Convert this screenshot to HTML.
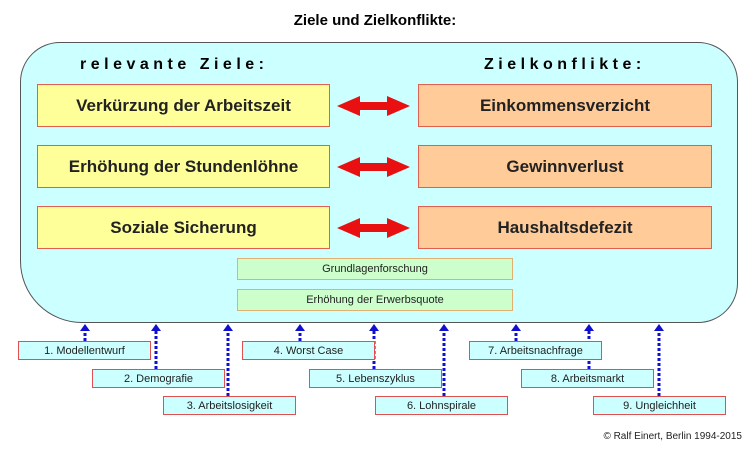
<!DOCTYPE html>
<html><head><style>
body{margin:0;width:750px;height:450px;background:#fff;position:relative;font-family:"Liberation Sans",sans-serif;overflow:hidden}
.a{position:absolute;box-sizing:border-box;display:flex;align-items:center;justify-content:center}
.y{background:#ffff99;border:1.5px solid #e06050;font-weight:bold;font-size:17px;color:#222}
.o{background:#ffcc99;border:1.5px solid #e06050;font-weight:bold;font-size:17px;color:#222}
.g{background:#ccffcc;border:1.5px solid #e0b070;font-size:11px;color:#222}
.b{background:#ccffff;border:1.5px solid #e05050;font-size:11px;color:#222;height:19px;width:133px}
</style></head><body>
<div class="a" style="left:0;top:10px;width:750px;height:20px;font-weight:bold;font-size:15px">Ziele und Zielkonflikte:</div>
<div style="position:absolute;left:20px;top:42px;width:718px;height:281px;box-sizing:border-box;background:#ccffff;border:1.5px solid #555;border-radius:40px 40px 40px 62px"></div>
<div style="position:absolute;left:80px;top:56px;font-weight:bold;font-size:16px;letter-spacing:4.5px">relevante Ziele:</div>
<div style="position:absolute;left:484px;top:56px;font-weight:bold;font-size:16px;letter-spacing:4.5px">Zielkonflikte:</div>
<div class="a y" style="left:37px;top:84px;width:293px;height:43px">Verkürzung der Arbeitszeit</div>
<div class="a y" style="left:37px;top:145px;width:293px;height:43px">Erhöhung der Stundenlöhne</div>
<div class="a y" style="left:37px;top:206px;width:293px;height:43px">Soziale Sicherung</div>
<div class="a o" style="left:418px;top:84px;width:294px;height:43px">Einkommensverzicht</div>
<div class="a o" style="left:418px;top:145px;width:294px;height:43px">Gewinnverlust</div>
<div class="a o" style="left:418px;top:206px;width:294px;height:43px">Haushaltsdefezit</div>
<svg style="position:absolute;left:0;top:0" width="750" height="450">
<g fill="#e81010">
<polygon points="337,106 360,96 360,102 387,102 387,96 410,106 387,116 387,110 360,110 360,116"/>
<polygon points="337,167 360,157 360,163 387,163 387,157 410,167 387,177 387,171 360,171 360,177"/>
<polygon points="337,228 360,218 360,224 387,224 387,218 410,228 387,238 387,232 360,232 360,238"/>
</g>
<g stroke="#1010d0" stroke-width="3" stroke-dasharray="3,2" fill="none">
<line x1="85" y1="341" x2="85" y2="331"/><line x1="156" y1="369" x2="156" y2="331"/>
<line x1="228" y1="396" x2="228" y2="331"/><line x1="300" y1="341" x2="300" y2="331"/>
<line x1="374" y1="369" x2="374" y2="331"/><line x1="444" y1="396" x2="444" y2="331"/>
<line x1="516" y1="341" x2="516" y2="331"/><line x1="589" y1="369" x2="589" y2="331"/>
<line x1="659" y1="396" x2="659" y2="331"/>
</g>
<g fill="#1010d0">
<polygon points="80,331 90,331 85,324"/><polygon points="151,331 161,331 156,324"/>
<polygon points="223,331 233,331 228,324"/><polygon points="295,331 305,331 300,324"/>
<polygon points="369,331 379,331 374,324"/><polygon points="439,331 449,331 444,324"/>
<polygon points="511,331 521,331 516,324"/><polygon points="584,331 594,331 589,324"/>
<polygon points="654,331 664,331 659,324"/>
</g>
</svg>
<div class="a g" style="left:237px;top:258px;width:276px;height:22px">Grundlagenforschung</div>
<div class="a g" style="left:237px;top:289px;width:276px;height:22px">Erhöhung der Erwerbsquote</div>
<div class="a b" style="left:18px;top:341px">1. Modellentwurf</div>
<div class="a b" style="left:92px;top:369px">2. Demografie</div>
<div class="a b" style="left:163px;top:396px">3. Arbeitslosigkeit</div>
<div class="a b" style="left:242px;top:341px">4. Worst Case</div>
<div class="a b" style="left:309px;top:369px">5. Lebenszyklus</div>
<div class="a b" style="left:375px;top:396px">6. Lohnspirale</div>
<div class="a b" style="left:469px;top:341px">7. Arbeitsnachfrage</div>
<div class="a b" style="left:521px;top:369px">8. Arbeitsmarkt</div>
<div class="a b" style="left:593px;top:396px">9. Ungleichheit</div>
<div style="position:absolute;right:8px;top:431px;font-size:10px;color:#222">© Ralf Einert, Berlin 1994-2015</div>
</body></html>
